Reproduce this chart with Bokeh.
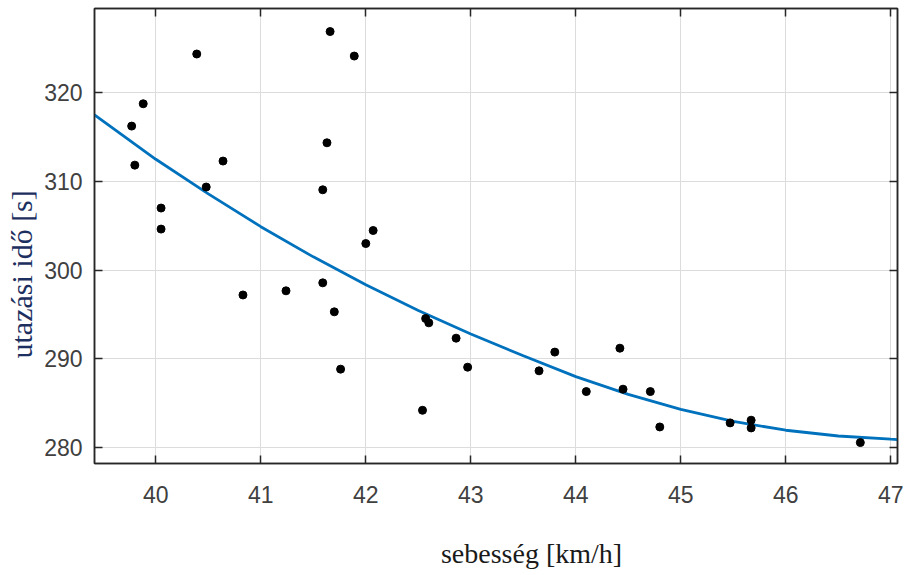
import math
from bokeh.plotting import figure
from bokeh.layouts import column
from bokeh.models import LinearAxis, Label, FixedTicker, Range1d, Title
from bokeh.embed import file_html
from bokeh.resources import INLINE

# ---- data ----
speed = [39.77, 39.80, 39.88, 40.05, 40.05, 40.39, 40.48, 40.64, 40.83, 41.24,
         41.59, 41.59, 41.63, 41.66, 41.70, 41.76, 41.89, 42.00, 42.07, 42.54,
         42.57, 42.60, 42.86, 42.97, 43.65, 43.80, 44.10, 44.42, 44.45, 44.71,
         44.80, 45.47, 45.67, 45.67, 46.71]
travel_time = [316.24, 311.84, 318.76, 307.00, 304.63, 324.37, 309.37, 312.30, 297.20, 297.67,
               309.06, 298.57, 314.36, 326.90, 295.30, 288.84, 324.14, 303.00, 304.47, 284.20,
               294.55, 294.06, 292.33, 289.06, 288.65, 290.76, 286.31, 291.20, 286.58, 286.31,
               282.32, 282.78, 283.08, 282.21, 280.56]

# fitted curve
fit_speed = [39.416, 40.0, 40.5, 41.0, 41.5, 42.0, 42.5, 43.0, 43.5, 44.0, 44.5,
             45.0, 45.5, 46.0, 46.5, 47.0, 47.064]
fit_time = [317.5, 312.5, 308.6, 304.9, 301.5, 298.35, 295.45, 292.8, 290.35, 288.0, 286.0,
            284.3, 282.95, 281.95, 281.3, 280.94, 280.9]

x_ticks = [40, 41, 42, 43, 44, 45, 46, 47]
y_ticks = [280, 290, 300, 310, 320]
x_label = "sebesség [km/h]"
y_label = "utazási idő [s]"

AX = "#262626"
TICK_TXT = "#404040"

p = figure(width=905, height=512,
           x_range=Range1d(39.416, 47.064), y_range=Range1d(278.2, 329.5),
           output_backend="svg", toolbar_location=None,
           min_border_left=94, min_border_top=8, min_border_right=8,
           min_border_bottom=49,
           background_fill_color="white", border_fill_color="white")
p.outline_line_color = AX
p.outline_line_width = 1.5

# grid
for g in (p.xgrid, p.ygrid):
    g.grid_line_color = "#dcdcdc"
    g.grid_line_width = 1
p.xgrid.ticker = FixedTicker(ticks=x_ticks)
p.ygrid.ticker = FixedTicker(ticks=y_ticks)

def style_axis(ax, labels=True, standoff=12):
    ax.axis_line_color = AX
    ax.axis_line_width = 1.5
    ax.major_tick_line_color = AX
    ax.major_tick_line_width = 1.5
    ax.major_tick_in = 8
    ax.major_tick_out = 0
    ax.minor_tick_in = 0
    ax.minor_tick_out = 0
    ax.minor_tick_line_color = None
    if labels:
        ax.major_label_text_font = "Liberation Sans"
        ax.major_label_text_font_size = "23px"
        ax.major_label_text_color = TICK_TXT
        ax.major_label_standoff = standoff
    else:
        ax.major_label_text_font_size = "0px"
        ax.major_label_text_color = None
        ax.major_label_standoff = 0

p.xaxis.ticker = FixedTicker(ticks=x_ticks)
p.yaxis.ticker = FixedTicker(ticks=y_ticks)
style_axis(p.xaxis[0], True, 22)
style_axis(p.yaxis[0], True, 12)

top_ax = LinearAxis(ticker=FixedTicker(ticks=x_ticks))
style_axis(top_ax, False)
p.add_layout(top_ax, "above")
right_ax = LinearAxis(ticker=FixedTicker(ticks=y_ticks))
style_axis(right_ax, False)
p.add_layout(right_ax, "right")

# data
p.line(fit_speed, fit_time, line_color="#0072BD", line_width=2.8)
p.scatter(speed, travel_time, size=8, fill_color="black", line_color="black")

# y axis label (shifted downward, as in the reference)
p.add_layout(Title(text=y_label, align="left", offset=105, vertical_align="middle",
                   standoff=6, text_font="Liberation Serif", text_font_size="30px",
                   text_font_style="normal", text_color="#1d2f5f"), "left")

# x axis label strip below the plot (label offset to the right, as in the reference)
q = figure(width=905, height=63, x_range=Range1d(0, 1), y_range=Range1d(0, 1),
           output_backend="svg", toolbar_location=None,
           x_axis_location=None, y_axis_location=None,
           min_border_left=0, min_border_right=0, min_border_top=0, min_border_bottom=0,
           background_fill_color="white", border_fill_color="white")
q.outline_line_color = None
q.xgrid.visible = False
q.ygrid.visible = False
q.add_layout(Label(x=437, y=22, x_units="screen", y_units="screen", text=x_label,
                   text_font="Liberation Serif", text_font_size="28px",
                   text_color="#1a1a1a", text_align="center", text_baseline="middle"))

layout = column(p, q, spacing=0)
open("out.html", "w").write(file_html(layout, INLINE))
